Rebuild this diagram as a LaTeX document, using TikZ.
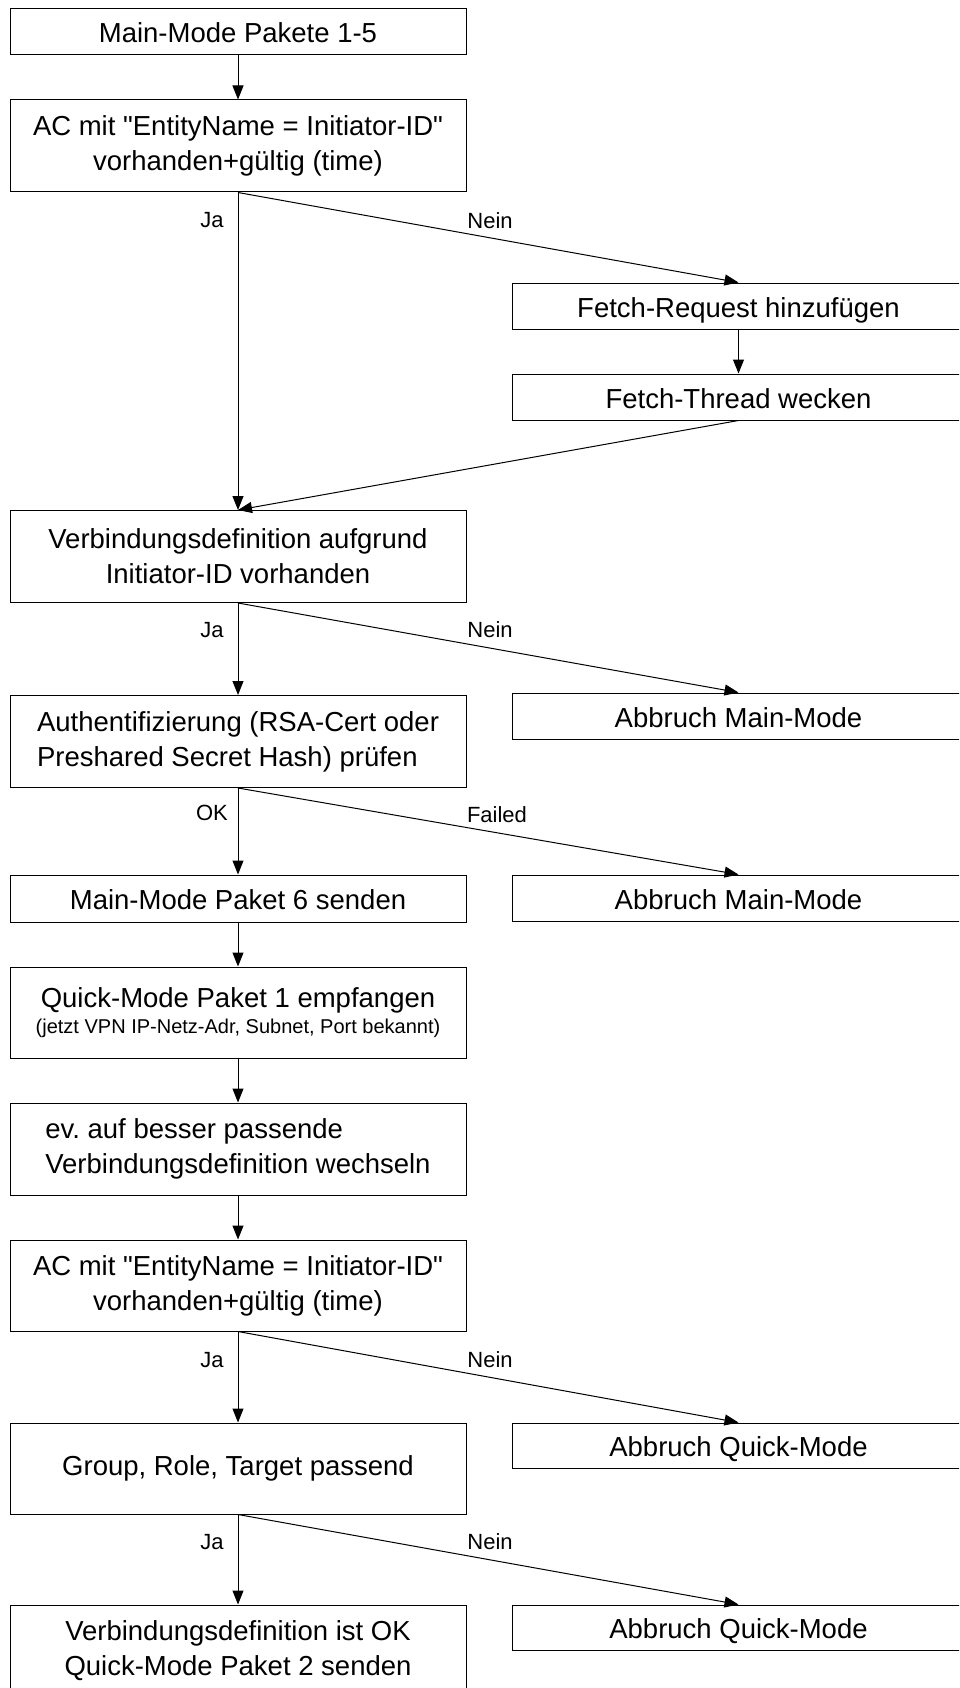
\documentclass[tikz,border=0pt]{standalone}
\usepackage{fontspec}
\setmainfont{Liberation Sans}
\usetikzlibrary{arrows.meta}
\frenchspacing
\tikzset{
  x=1pt, y=-1pt,
  box/.style={draw=black, line width=1pt, inner sep=0pt, align=center,
    font=\fontsize{27.5}{35}\selectfont},
  leftbox/.style={box, minimum width=456pt},
  rightbox/.style={box, minimum width=453pt},
  onerow/.style={minimum height=46pt, text height=26pt, text depth=4pt},
  tworow/.style={minimum height=92pt},
  arr/.style={line width=1pt, -{Triangle[length=14pt,width=11pt]}},
  lbl/.style={font=\fontsize{22}{26}\selectfont, inner sep=0pt},
}
\newcommand{\qq}{\textquotedbl}
\begin{document}
\begin{tikzpicture}
\useasboundingbox (0,0) rectangle (959,1688);
\clip (0,0) rectangle (959,1688);

% main column
\node[leftbox, onerow] (mm15) at (238,32) {Main-Mode Pakete 1-5};
\node[leftbox, tworow] (ac1) at (238,146) {AC mit \qq EntityName = Initiator-ID\qq\\vorhanden+gültig (time)};
\node[leftbox, tworow] (verb) at (238,556.5) {Verbindungsdefinition aufgrund\\Initiator-ID vorhanden};
\node[leftbox, tworow] (auth) at (238,741.5) {\begin{tabular}{@{}l@{}}Authentifizierung (RSA-Cert oder\\Preshared Secret Hash) prüfen\end{tabular}};
\node[leftbox, onerow, minimum height=47pt] (mm6) at (238,898.5) {Main-Mode Paket 6 senden};
\node[leftbox, tworow, minimum height=91pt] (qm1) at (238,1012.5) {Quick-Mode Paket 1 empfangen\\[-9pt]{\fontsize{20}{24}\selectfont (jetzt VPN IP-Netz-Adr, Subnet, Port bekannt)}};
\node[leftbox, tworow] (ev) at (238,1149) {\begin{tabular}{@{}l@{}}ev. auf besser passende\\Verbindungsdefinition wechseln\end{tabular}};
\node[leftbox, tworow, minimum height=91pt] (ac2) at (238,1285.5) {AC mit \qq EntityName = Initiator-ID\qq\\vorhanden+gültig (time)};
\node[leftbox, tworow, minimum height=91pt] (grp) at (238,1468.5) {Group, Role, Target passend};
\node[leftbox, tworow, minimum height=91pt] (ok) at (238,1650.5) {Verbindungsdefinition ist OK\\Quick-Mode Paket 2 senden};

% side column
\node[rightbox, onerow] (freq) at (738.5,306) {Fetch-Request hinzufügen};
\node[rightbox, onerow] (fthr) at (738.5,397) {Fetch-Thread wecken};
\node[rightbox, onerow] (abmm1) at (738.5,716) {Abbruch Main-Mode};
\node[rightbox, onerow] (abmm2) at (738.5,898) {Abbruch Main-Mode};
\node[rightbox, onerow, minimum height=45pt] (abqm1) at (738.5,1445.5) {Abbruch Quick-Mode};
\node[rightbox, onerow, minimum height=45pt] (abqm2) at (738.5,1627.5) {Abbruch Quick-Mode};

% connectors
\draw[arr] (mm15.south) -- (ac1.north);
\draw[arr] (ac1.south) -- (verb.north);
\draw[arr] (ac1.south) -- (freq.north);
\draw[arr] (freq.south) -- (fthr.north);
\draw[arr] (fthr.south) -- (verb.north);
\draw[arr] (verb.south) -- (auth.north);
\draw[arr] (verb.south) -- (abmm1.north);
\draw[arr] (auth.south) -- (mm6.north);
\draw[arr] (auth.south) -- (abmm2.north);
\draw[arr] (mm6.south) -- (qm1.north);
\draw[arr] (qm1.south) -- (ev.north);
\draw[arr] (ev.south) -- (ac2.north);
\draw[arr] (ac2.south) -- (grp.north);
\draw[arr] (ac2.south) -- (abqm1.north);
\draw[arr] (grp.south) -- (ok.north);
\draw[arr] (grp.south) -- (abqm2.north);

% branch labels
\node[lbl] (l1ja) at (212,220) {Ja};
\node[lbl] (l1nein) at (490,221) {Nein};
\node[lbl] (l2ja) at (212,630) {Ja};
\node[lbl] (l2nein) at (490,630) {Nein};
\node[lbl] (l3ok) at (212,813) {OK};
\node[lbl] (l3failed) at (497,815) {Failed};
\node[lbl] (l4ja) at (212,1360) {Ja};
\node[lbl] (l4nein) at (490,1360) {Nein};
\node[lbl] (l5ja) at (212,1542) {Ja};
\node[lbl] (l5nein) at (490,1542) {Nein};
\end{tikzpicture}
\end{document}
